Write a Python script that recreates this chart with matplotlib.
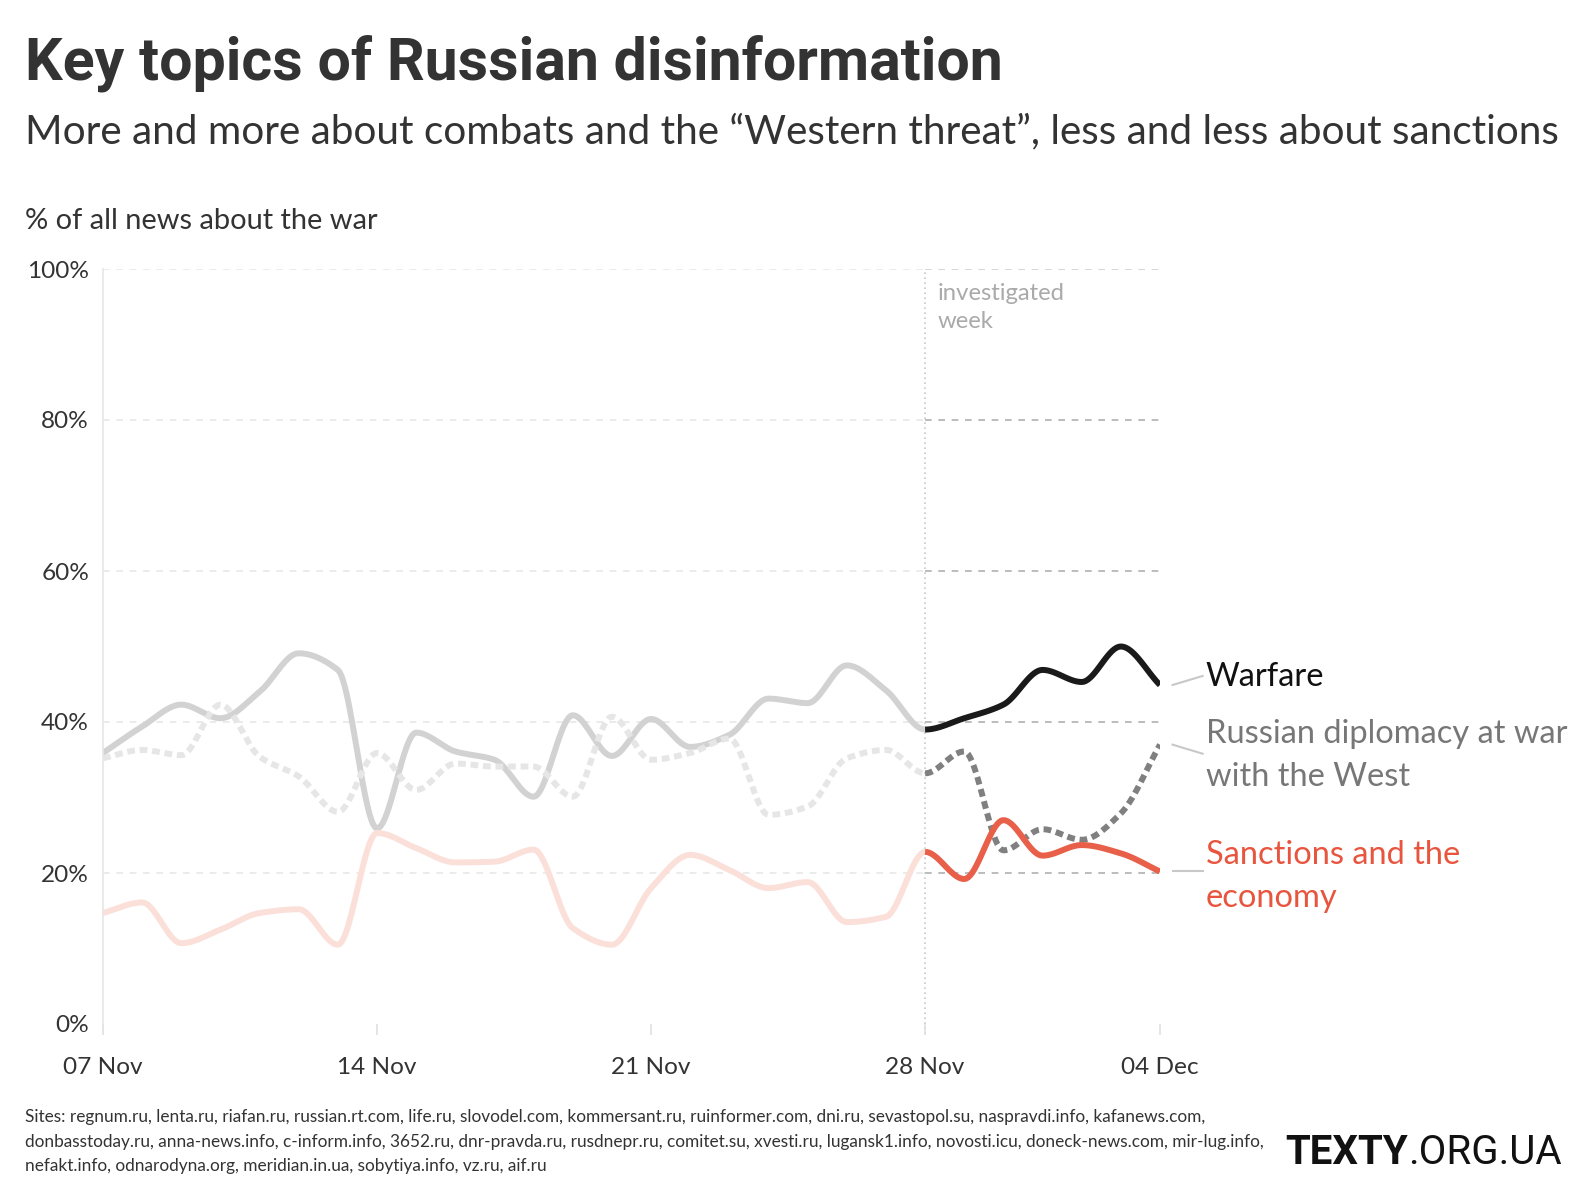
import numpy as np
import matplotlib.pyplot as plt

# daily share (%) of all news about the war, 07 Nov .. 04 Dec
days = np.arange(28)
warfare = [35.9, 39.4, 42.3, 40.5, 44.0, 49.1, 46.9, 25.9, 38.6, 36.1, 35.0, 30.1,
           40.9, 35.5, 40.4, 36.7, 38.3, 43.1, 42.5, 47.5, 44.2, 39.0,
           40.5, 42.3, 46.9, 45.3, 50.0, 44.9]
diplomacy = [35.2, 36.3, 35.6, 42.3, 35.4, 32.8, 28.1, 35.9, 31.0, 34.5, 34.1, 34.1,
             30.1, 40.7, 35.0, 35.9, 37.8, 27.7, 28.8, 35.2, 36.3, 33.2,
             36.1, 23.0, 25.8, 24.4, 27.9, 37.0]
sanctions = [14.7, 16.1, 10.7, 12.5, 14.7, 15.2, 10.5, 25.3, 23.3, 21.4, 21.5, 23.1,
             12.7, 10.5, 18.0, 22.4, 20.4, 18.0, 18.8, 13.5, 14.2, 22.8,
             19.2, 27.0, 22.3, 23.7, 22.6, 20.2]
week_start = 21
xtick_pos = [0, 7, 14, 21, 27]
xtick_labels = ['07 Nov', '14 Nov', '21 Nov', '28 Nov', '04 Dec']
ytick_pos = [0, 20, 40, 60, 80, 100]

sites = ("Sites: regnum.ru, lenta.ru, riafan.ru, russian.rt.com, life.ru, slovodel.com, kommersant.ru, "
         "ruinformer.com, dni.ru, sevastopol.su, naspravdi.info, kafanews.com,\n"
         "donbasstoday.ru, anna-news.info, c-inform.info, 3652.ru, dnr-pravda.ru, rusdnepr.ru, comitet.su, "
         "xvesti.ru, lugansk1.info, novosti.icu, doneck-news.com, mir-lug.info,\n"
         "nefakt.info, odnarodyna.org, meridian.in.ua, sobytiya.info, vz.ru, aif.ru")


def monotone(x, y, n=20):
    # monotone cubic (like d3.curveMonotoneX) for smooth line drawing
    x = np.asarray(x, float)
    y = np.asarray(y, float)
    h = np.diff(x)
    d = np.diff(y) / h
    m = np.zeros_like(y)
    m[0], m[-1] = d[0], d[-1]
    for i in range(1, len(y) - 1):
        if d[i - 1] * d[i] <= 0:
            m[i] = 0
        else:
            m[i] = 3 * (h[i - 1] + h[i]) / ((2 * h[i] + h[i - 1]) / d[i - 1] + (h[i] + 2 * h[i - 1]) / d[i])
    xs, ys = [], []
    for i in range(len(x) - 1):
        t = np.linspace(0, 1, n, endpoint=False)
        h00 = 2 * t**3 - 3 * t**2 + 1
        h10 = t**3 - 2 * t**2 + t
        h01 = -2 * t**3 + 3 * t**2
        h11 = t**3 - t**2
        xs.append(x[i] + t * h[i])
        ys.append(h00 * y[i] + h10 * h[i] * m[i] + h01 * y[i + 1] + h11 * h[i] * m[i + 1])
    xs.append([x[-1]])
    ys.append([y[-1]])
    return np.concatenate(xs), np.concatenate(ys)


W, H = 1582, 1192
fig = plt.figure(figsize=(W / 100, H / 100), dpi=100)
fig.patch.set_facecolor('white')
ax = fig.add_axes([103 / W, 1 - 1024 / H, (1160 - 103) / W, (1024 - 269) / H])
ax.set_xlim(0, 27)
ax.set_ylim(0, 100)
for s in ['top', 'right', 'bottom']:
    ax.spines[s].set_visible(False)
ax.spines['left'].set_color('#e6e6e6')
ax.spines['left'].set_linewidth(1.2)
ax.spines['left'].set_bounds(-1.3, 100)

# grid
for v in ytick_pos[1:]:
    c_new = '#b0b0b0' if v < 100 else '#d0d0d0'
    ax.plot([0, week_start], [v, v], color='#e8e8e8', lw=1.2, ls=(0, (4, 4)), zorder=1)
    ax.plot([week_start, 27], [v, v], color=c_new, lw=1.2, ls=(0, (4, 4)), zorder=1)
ax.plot([week_start, week_start], [-1.3, 100], color='#c8c8c8', lw=1.2, ls=(0, (1, 2)),
        zorder=1, clip_on=False)

lw = 4.3
series = [
    (warfare, '#d2d2d2', '#1a1a1a', '-'),
    (diplomacy, '#e6e6e6', '#808080', (0, (1.3, 0.8))),
    (sanctions, '#fbe0da', '#e8604a', '-'),
]
for vals, c_old, c_new, ls in series:
    xs, ys = monotone(days, vals)
    old = xs <= week_start
    ax.plot(xs[old], ys[old], color=c_old, lw=lw, ls=ls, solid_capstyle='round',
            dash_capstyle='butt', zorder=2)
for vals, c_old, c_new, ls in series:
    xs, ys = monotone(days, vals)
    new = xs >= week_start
    ax.plot(xs[new], ys[new], color=c_new, lw=lw, ls=ls, solid_capstyle='butt',
            dash_capstyle='butt', zorder=3)

ax.set_xticks(xtick_pos)
ax.set_xticklabels(xtick_labels)
ax.set_yticks(ytick_pos)
ax.set_yticklabels([f'{v}%' for v in ytick_pos])
ax.tick_params(axis='x', length=8, width=1.2, color='#e0e0e0', pad=16,
               labelsize=17.6, labelcolor='#333333')
ax.tick_params(axis='y', length=0, pad=10, labelsize=17.6, labelcolor='#333333')
for lab in ax.get_xticklabels() + ax.get_yticklabels():
    lab.set_fontfamily('Lato')

# labels at the right
ax.plot([27.32, 28.09], [44.9, 46.1], color='#c8c8c8', lw=1.5, clip_on=False)
ax.plot([27.32, 28.09], [37.0, 35.8], color='#c8c8c8', lw=1.5, clip_on=False)
ax.plot([27.32, 28.09], [20.2, 20.2], color='#c8c8c8', lw=1.5, clip_on=False)
ax.text(28.17, 46.0, 'Warfare', color='#111111', fontsize=23.5, family='Lato',
        va='center', ha='left', clip_on=False)
ax.text(28.17, 35.6, 'Russian diplomacy at war\nwith the West', color='#777777', fontsize=23.5,
        family='Lato', va='center', ha='left', linespacing=1.55, clip_on=False)
ax.text(28.17, 19.5, 'Sanctions and the\neconomy', color='#e8553f', fontsize=23.5,
        family='Lato', va='center', ha='left', linespacing=1.55, clip_on=False)
ax.text(21.33, 94.9, 'investigated\nweek', color='#aaaaaa', fontsize=17.2, family='Lato',
        va='center', ha='left', linespacing=1.45)

# titles
fig.text(25 / W, 1 - 79 / H, 'Key topics of Russian disinformation', fontsize=42.6,
         fontweight='bold', family='Roboto', color='#333333', va='baseline')
fig.text(25 / W, 1 - 143 / H,
         'More and more about combats and the \u201cWestern threat\u201d, less and less about sanctions',
         fontsize=29.15, family='Lato', color='#333333', va='baseline')
fig.text(25 / W, 1 - 229 / H, '% of all news about the war', fontsize=20.9, family='Lato',
         color='#333333', va='baseline')

fig.text(25 / W, 1 - 1109 / H, sites, fontsize=12.45, family='Lato', color='#333333',
         va='top', linespacing=1.66)
logo1 = fig.text(1285 / W, 1 - 1164 / H, 'TEXTY', fontsize=29, fontweight='bold',
                 family='Roboto', color='#111111', va='baseline')
fig.canvas.draw()
bb = logo1.get_window_extent()
fig.text(bb.x1 / W, 1 - 1164 / H, '.ORG.UA', fontsize=29, family='Roboto',
         color='#111111', va='baseline')

fig.savefig('out.png', dpi=100, facecolor='white')
